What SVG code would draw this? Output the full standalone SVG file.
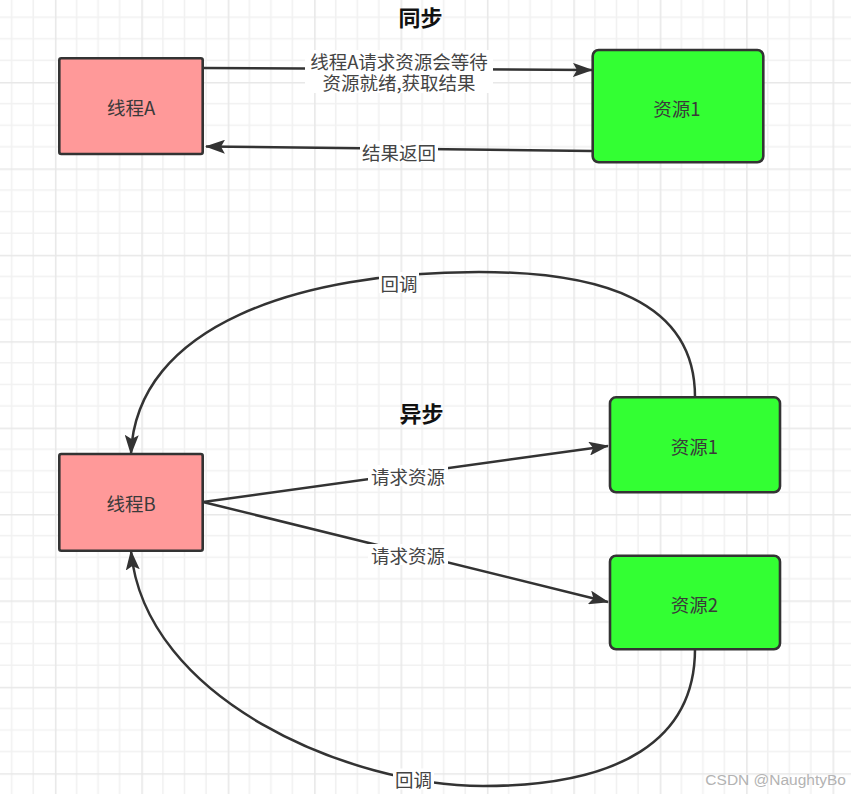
<svg xmlns="http://www.w3.org/2000/svg" width="851" height="794" viewBox="0 0 851 794">
  <defs>
    <pattern id="grid" patternUnits="userSpaceOnUse" x="-31.5" y="-4.4" width="86.4" height="86.4">
      <path d="M21.6 0V86.4M43.2 0V86.4M64.8 0V86.4M0 21.6H86.4M0 43.2H86.4M0 64.8H86.4" stroke="#f1f1f1" stroke-width="1.6" fill="none"/>
      <path d="M0.8 0V86.4M0 0.8H86.4" stroke="#e8e8e8" stroke-width="1.6" fill="none"/>
    </pattern>
    <marker id="arr" markerUnits="userSpaceOnUse" markerWidth="20" markerHeight="14" refX="19" refY="7" orient="auto" viewBox="0 0 20 14">
      <path d="M0 0L20 7L0 14L4 7Z" fill="#333333"/>
    </marker>
    <style>
      .thread { fill: #ff9999; stroke: #333333; stroke-width: 2.6; }
      .res { fill: #33ff33; stroke: #333333; stroke-width: 2.6; }
      .ntext { font-family: "Noto Sans CJK SC", "Liberation Sans", sans-serif; font-size: 18.5px; fill: #3a3a3a; text-anchor: middle; dominant-baseline: central; }
      .ltext { font-family: "Noto Sans CJK SC", "Liberation Sans", sans-serif; font-size: 18.5px; fill: #444444; text-anchor: middle; dominant-baseline: central; }
      .title { font-family: "Noto Sans CJK SC", "Liberation Sans", sans-serif; font-size: 22px; font-weight: bold; fill: #111111; text-anchor: middle; dominant-baseline: central; }
      .edge { fill: none; stroke: #333333; stroke-width: 2.5; marker-end: url(#arr); }
      .lbg { fill: #ffffff; }
    </style>
  </defs>
  <rect x="0" y="0" width="851" height="794" fill="#ffffff"/>
  <rect x="0" y="0" width="851" height="794" fill="url(#grid)"/>

  <g id="titles">
    <text class="title" x="420.5" y="16">同步</text>
    <text class="title" x="421.5" y="412">异步</text>
  </g>

  <g id="connectors">
    <path class="edge" d="M203 68L592 70"/>
    <path class="edge" d="M592 151L206 146.5"/>
    <path class="edge" d="M203 502L608 446"/>
    <path class="edge" d="M203 502L608 602"/>
    <path class="edge" d="M695 397C695 300 600 272 479 272C300 272 136 325 131 454"/>
    <path class="edge" d="M695 649C695 740 620 786 483 786C350 786 145 700 131 551"/>
  </g>

  <g id="labels">
    <rect class="lbg" x="305" y="50" width="188" height="43"/>
    <text class="ltext"><tspan x="399" y="60.5">线程A请求资源会等待</tspan><tspan x="399" y="82">资源就绪,获取结果</tspan></text>
    <rect class="lbg" x="360" y="141" width="78" height="21"/>
    <text class="ltext" x="399" y="151.5">结果返回</text>
    <rect class="lbg" x="368" y="465" width="80" height="21"/>
    <text class="ltext" x="408" y="475.5">请求资源</text>
    <rect class="lbg" x="368" y="544" width="80" height="21"/>
    <text class="ltext" x="408" y="554.5">请求资源</text>
    <rect class="lbg" x="379" y="272" width="40" height="21"/>
    <text class="ltext" x="399" y="282.5">回调</text>
    <rect class="lbg" x="393" y="768.5" width="41" height="21"/>
    <text class="ltext" x="413.5" y="779">回调</text>
  </g>

  <g id="threadA">
    <rect class="thread" x="59.3" y="58.3" width="143.4" height="95.7" rx="2"/>
    <text class="ntext" x="131" y="106.5">线程A</text>
  </g>
  <g id="res1sync">
    <rect class="res" x="592.7" y="50" width="170.6" height="112.3" rx="6"/>
    <text class="ntext" x="677" y="107.5">资源1</text>
  </g>
  <g id="threadB">
    <rect class="thread" x="59.3" y="454" width="143.4" height="96.7" rx="2"/>
    <text class="ntext" x="131" y="502.5">线程B</text>
  </g>
  <g id="res1async">
    <rect class="res" x="610" y="397.3" width="170" height="95" rx="6"/>
    <text class="ntext" x="694.5" y="446">资源1</text>
  </g>
  <g id="res2async">
    <rect class="res" x="610" y="555.7" width="170" height="93.6" rx="6"/>
    <text class="ntext" x="694.5" y="604">资源2</text>
  </g>

  <text x="846" y="785" text-anchor="end" font-family="Liberation Sans, Arial, sans-serif" font-size="15.5" fill="#b3b3b3">CSDN @NaughtyBo</text>
</svg>
